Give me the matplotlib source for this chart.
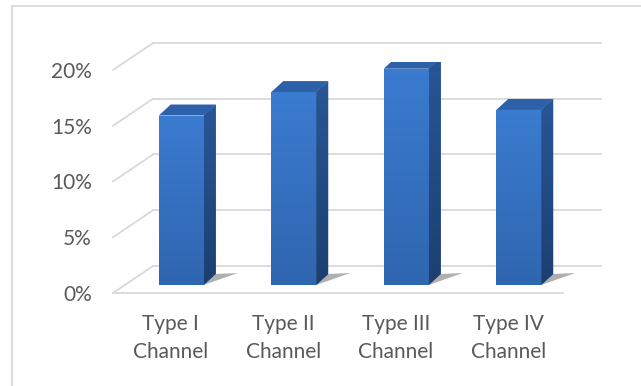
import numpy as np
import matplotlib.pyplot as plt
from matplotlib.patches import Polygon
from matplotlib.lines import Line2D
from matplotlib.colors import LinearSegmentedColormap

plt.rcParams['font.family'] = ['Lato', 'DejaVu Sans']

# data
categories = ["Type I\nChannel", "Type II\nChannel", "Type III\nChannel", "Type IV\nChannel"]
values = [15.2, 17.3, 19.4, 15.7]
y_ticks = [0, 5, 10, 15, 20]
y_labels = ["0%", "5%", "10%", "15%", "20%"]

W, H = 641, 386
fig = plt.figure(figsize=(W / 100, H / 100), dpi=100)
ax = fig.add_axes([125 / W, (H - 285) / H, 450 / W, 223 / H])
ax.set_xlim(-0.5, 3.5)
ax.set_ylim(0, 20)
ax.axis("off")

# pixel -> data helpers for the fake 3d offsets
ux = 450 / 4
uy = 223 / 20
def px(dx, dy):
    return dx / ux, dy / uy

front = px(-12, -8)
back = px(28, 19)
depth = px(12, 11)
grid_c = "#d9d9d9"
text_c = "#595959"

# walls
for t in y_ticks:
    ax.plot([-0.5 + back[0], 3.48 + back[0]], [t + back[1]] * 2, color=grid_c, lw=1.3, clip_on=False, zorder=1)
    ax.plot([-0.5 + front[0], -0.5 + back[0]], [t + front[1], t + back[1]], color=grid_c, lw=1.3, clip_on=False, zorder=1)
ax.plot([-0.5 + front[0], 3.5 + front[0]], [front[1]] * 2, color=grid_c, lw=1.3, clip_on=False, zorder=1)

# bars
bw = 0.4
x = np.arange(len(values))
front_cmap = LinearSegmentedColormap.from_list("f", ["#2f66b0", "#3b7bd0"])
side_cmap = LinearSegmentedColormap.from_list("s", ["#1c3f70", "#285796"])
bars = ax.bar(x, values, width=bw, color="#3571c3", zorder=3)
for b, xi, v in zip(bars, x, values):
    r = xi + bw / 2
    # shadow
    sh = Polygon([(r, 0), (r + px(34, 0)[0], px(0, 12)[1]), (r + depth[0], depth[1])],
                 closed=True, color="#7a7a7a", alpha=0.6, lw=0, zorder=2)
    ax.add_patch(sh)
    grad = np.linspace(0, 1, 100).reshape(-1, 1)
    im = ax.imshow(grad, extent=[xi - bw / 2, r, v, 0], cmap=front_cmap, aspect="auto", zorder=3.1)
    im.set_clip_path(b)
    side = Polygon([(r, 0), (r + depth[0], depth[1]), (r + depth[0], v + depth[1]), (r, v)],
                   closed=True, color="#234e8a", lw=0, zorder=3)
    ax.add_patch(side)
    im2 = ax.imshow(grad, extent=[r, r + depth[0], v + depth[1], 0], cmap=side_cmap, aspect="auto", zorder=3.1)
    im2.set_clip_path(side)
    top = Polygon([(xi - bw / 2, v), (xi - bw / 2 + depth[0], v + depth[1]), (r + depth[0], v + depth[1]), (r, v)],
                  closed=True, color="#2c60a8", lw=0, zorder=3.2)
    ax.add_patch(top)
ax.set_xlim(-0.5, 3.5)
ax.set_ylim(0, 20)

# y labels on the front plane
for t, lab in zip(y_ticks, y_labels):
    ax.text(-0.5 - 33 / ux, t + front[1] - 2 / uy, lab, ha="right", va="center",
            fontsize=15, color=text_c, clip_on=False)

# category labels
for xi, lab in zip(x, categories):
    ax.text(xi - 10.5 / ux, -53 / uy, lab, ha="center", va="center",
            fontsize=15, color=text_c, linespacing=1.55, clip_on=False)

# chart border (left and top visible)
fig.add_artist(Line2D([12 / W, 12 / W], [0, 1 - 6 / H], color=grid_c, lw=1.3))
fig.add_artist(Line2D([12 / W, 1], [1 - 6 / H, 1 - 6 / H], color=grid_c, lw=1.3))

fig.savefig("out.png", dpi=100, facecolor="white")
